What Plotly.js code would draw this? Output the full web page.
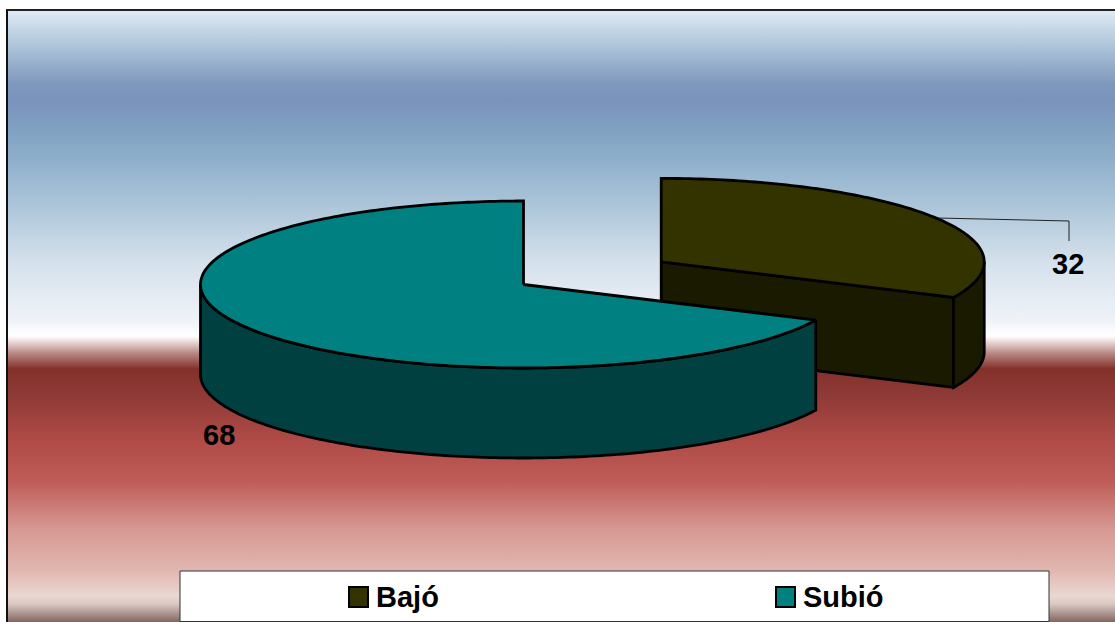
<!DOCTYPE html>
<html>
<head>
<meta charset="utf-8">
<script src="https://cdn.plot.ly/plotly-3.0.1.min.js"></script>
<style>
  html, body { margin: 0; padding: 0; background: #fff; overflow: hidden; }
  #stage { position: absolute; left: 0; top: 0; width: 1115px; height: 622px; }
  #backdrop {
    position: absolute; left: 6px; top: 9px; width: 1109px; height: 613px;
    box-sizing: border-box; border-left: 2px solid #111; border-top: 2px solid #222;
    background: linear-gradient(to bottom,
      #dfeaf4 0px, #b4cadd 30px, #7d97bd 74px, #7a93bc 90px, #7f9fc0 115px,
      #8fb0cc 150px, #a9c3d8 190px, #d4e0eb 250px, #eff3f8 310px, #ffffff 325px,
      #f3e6e4 329px, #b98a86 342px, #83302b 358px, #8f3a36 385px, #b04b47 430px,
      #bf5c57 470px, #d79a95 520px, #e1b7b0 560px, #ead8d2 585px, #d9c8c2 593px, #7a5a54 613px);
  }
  #chart { position: absolute; left: 0; top: 0; }
</style>
</head>
<body>
<div id="stage">
  <div id="backdrop"></div>
  <div id="chart"></div>
</div>
<script>
// Share of answers per category
const categories = ['Bajó', 'Subió'];
const values = [32, 68];
const topColors = ['#333300', '#008080'];
const sideColors = ['#1a1a00', '#004040'];

// Oblique projection of the disc, in screen units of the axes
const pieCenterX = 523.5, pieCenterY = 284.5;
const radiusX = 323, radiusY = 83.5, depth = 90;
const explode = 0.505;
const edge = { color: '#000000', width: 2.8 };

const total = values.reduce((a, b) => a + b, 0);

// Angles run clockwise from twelve o'clock
function rim(cx, cy, from, to) {
  const n = Math.max(2, Math.ceil(Math.abs(to - from) / 1));
  const xs = [], ys = [];
  for (let i = 0; i <= n; i++) {
    const t = (from + (to - from) * i / n) * Math.PI / 180;
    xs.push(cx + radiusX * Math.sin(t));
    ys.push(cy - radiusY * Math.cos(t));
  }
  return { xs, ys };
}

function poly(xs, ys, fill) {
  return {
    type: 'scatter', mode: 'lines', x: xs, y: ys, fill: 'toself', fillcolor: fill,
    line: { color: edge.color, width: edge.width, simplify: false },
    hoverinfo: 'skip', showlegend: false
  };
}

const bajoSweep = values[0] / total * 360;
const bajoMid = bajoSweep / 2 * Math.PI / 180;
const bajoX = pieCenterX + explode * radiusX * Math.sin(bajoMid);
const bajoY = pieCenterY - explode * radiusY * Math.cos(bajoMid);

const traces = [];

// Bajó: cut face, curved side, then the top
const bajoEnd = rim(bajoX, bajoY, bajoSweep, bajoSweep);
traces.push(poly(
  [bajoX, bajoEnd.xs[0], bajoEnd.xs[0], bajoX, bajoX],
  [bajoY, bajoEnd.ys[0], bajoEnd.ys[0] + depth, bajoY + depth, bajoY],
  sideColors[0]));
const bajoSide = rim(bajoX, bajoY, 90, bajoSweep);
traces.push(poly(
  bajoSide.xs.concat(bajoSide.xs.slice().reverse(), [bajoSide.xs[0]]),
  bajoSide.ys.concat(bajoSide.ys.map(y => y + depth).reverse(), [bajoSide.ys[0]]),
  sideColors[0]));
const bajoTop = rim(bajoX, bajoY, 0, bajoSweep);
traces.push(poly(
  [bajoX].concat(bajoTop.xs, [bajoX]),
  [bajoY].concat(bajoTop.ys, [bajoY]),
  topColors[0]));

// Subió: curved side, then the top
const subioSide = rim(pieCenterX, pieCenterY, bajoSweep, 270);
traces.push(poly(
  subioSide.xs.concat(subioSide.xs.slice().reverse(), [subioSide.xs[0]]),
  subioSide.ys.concat(subioSide.ys.map(y => y + depth).reverse(), [subioSide.ys[0]]),
  sideColors[1]));
const subioTop = rim(pieCenterX, pieCenterY, bajoSweep, 360);
traces.push(poly(
  [pieCenterX].concat(subioTop.xs, [pieCenterX]),
  [pieCenterY].concat(subioTop.ys, [pieCenterY]),
  topColors[1]));

// Leader line for the Bajó label
traces.push({
  type: 'scatter', mode: 'lines', x: [938, 1069, 1069], y: [218, 221, 241],
  line: { color: '#222222', width: 1 }, hoverinfo: 'skip', showlegend: false
});

const labelFont = { family: 'Liberation Sans, Arial, sans-serif', size: 29, color: '#000000' };
function note(x, y, txt, anchor) {
  return { xref: 'x', yref: 'y', x, y, text: '<b>' + txt + '</b>', showarrow: false,
           font: labelFont, xanchor: anchor, yanchor: 'middle', borderpad: 0, borderwidth: 0 };
}

const legendSwatches = [349, 776];
const legendShapes = [{
  type: 'rect', xref: 'x', yref: 'y', x0: 180, x1: 1049, y0: 571, y1: 621.5,
  fillcolor: '#ffffff', line: { color: '#333333', width: 1 }, layer: 'above'
}];
legendSwatches.forEach((sx, i) => legendShapes.push({
  type: 'rect', xref: 'x', yref: 'y', x0: sx, x1: sx + 19, y0: 587, y1: 607,
  fillcolor: topColors[i], line: { color: '#000000', width: 2 }, layer: 'above'
}));

const annotations = [
  note(1068, 264, String(values[0]), 'center'),
  note(219, 435, String(values[1]), 'center')
].concat(categories.map((c, i) => note(legendSwatches[i] + 27, 597, c, 'left')));

const layout = {
  width: 1115, height: 622,
  margin: { l: 0, r: 0, t: 0, b: 0, pad: 0 },
  paper_bgcolor: 'rgba(0,0,0,0)', plot_bgcolor: 'rgba(0,0,0,0)',
  xaxis: { range: [0, 1115], visible: false, fixedrange: true },
  yaxis: { range: [622, 0], visible: false, fixedrange: true },
  showlegend: false, hovermode: false,
  shapes: legendShapes, annotations
};

Plotly.newPlot('chart', traces, layout, { displayModeBar: false, staticPlot: true });
</script>
</body>
</html>
